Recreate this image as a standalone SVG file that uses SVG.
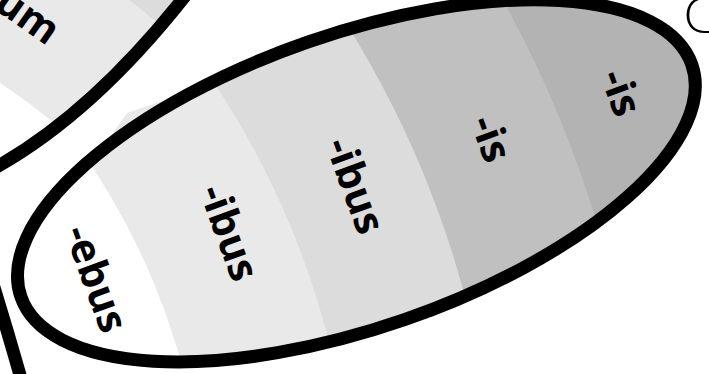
<svg xmlns="http://www.w3.org/2000/svg" width="709" height="374" viewBox="0 0 709 374">
<style>
.outline{fill:none;stroke:#000;stroke-width:13}
.lbl{font-family:"Open Sans","DejaVu Sans",sans-serif;font-weight:700;font-size:41px;fill:#000;text-anchor:middle;dominant-baseline:central}
.b1{fill:#ffffff}.b2{fill:#e9e9e9}.b3{fill:#dcdcdc}.b4{fill:#c0c0c0}.b5{fill:#b3b3b3}
</style>
<defs>
<clipPath id="clipMain"><ellipse cx="356.4" cy="180.8" rx="355" ry="147" transform="rotate(-19.1 356.4 180.8)"/></clipPath>
<clipPath id="clipUm"><path d="M-18.6,175.1 Q93.5,117.9 199.7,-22.9 L-20,-22.9 Z"/></clipPath>
</defs>
<rect width="709" height="374" fill="#fff"/>
<g id="petal-um">
<g clip-path="url(#clipUm)">
<circle cx="-388" cy="663" r="1100" class="b3"/>
<circle cx="-388" cy="663" r="841" class="b2"/>
<circle cx="-388" cy="663" r="698" class="b1"/>
</g>
<text class="lbl" style="text-anchor:end" transform="translate(56.4,33.3) rotate(35)">um</text>
<path class="outline" d="M-18.6,175.1 Q93.5,117.9 199.7,-22.9"/>
</g>
<g id="sliver">
<polygon class="b2" points="105,144 127,113 168,99 150,140"/>
</g>
<g id="petal-main">
<g clip-path="url(#clipMain)">
<circle cx="-490" cy="550" r="1400" class="b5"/>
<circle cx="-490" cy="550" r="1135" class="b4"/>
<circle cx="-490" cy="550" r="988" class="b3"/>
<circle cx="-490" cy="550" r="845" class="b2"/>
<circle cx="-490" cy="550" r="697" class="b1"/>
</g>
<ellipse class="outline" cx="356.4" cy="180.8" rx="355" ry="147" transform="rotate(-19.1 356.4 180.8)"/>
<text class="lbl" transform="translate(98,278) rotate(70)">-ebus</text>
<text class="lbl" transform="translate(231,232) rotate(70)">-ibus</text>
<text class="lbl" transform="translate(357,185) rotate(70)">-ibus</text>
<text class="lbl" transform="translate(493,138) rotate(70)">-is</text>
<text class="lbl" transform="translate(623,92) rotate(70)">-is</text>
</g>
<g id="petal-lower-left">
<path class="outline" d="M-12,268 Q5,322 22,382"/>
</g>
<g id="label-d">
<text transform="translate(723,-3) rotate(180)" style="font-family:Lato,'Open Sans',sans-serif;font-weight:300;font-size:52px;fill:#000">D</text>
</g>
</svg>
